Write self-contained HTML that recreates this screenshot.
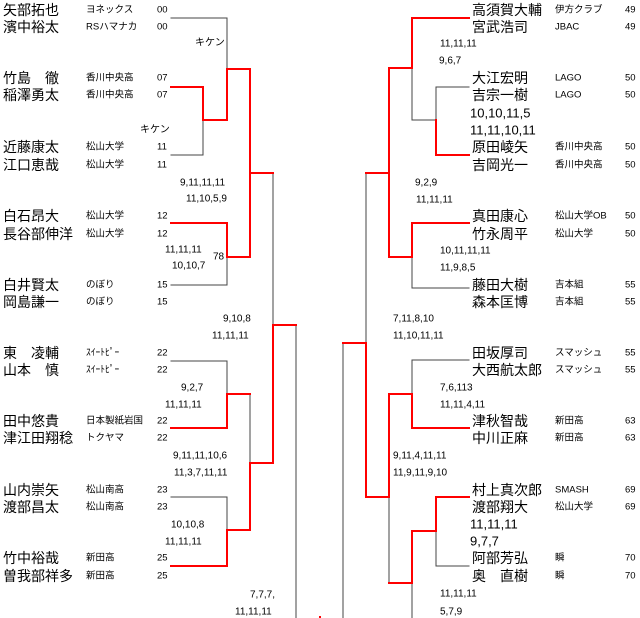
<!DOCTYPE html>
<html><head><meta charset="utf-8"><style>
html,body{margin:0;padding:0;background:#fff;width:640px;height:618px;overflow:hidden}
svg{display:block}
text{font-family:"Liberation Sans","Noto Sans CJK JP",sans-serif;fill:#000;dominant-baseline:central}
.n{font-size:14px}
.t{font-size:9.5px}
.s{font-size:10px}
.b{font-size:13px}
</style></head><body>
<svg width="640" height="618" viewBox="0 0 640 618" xmlns="http://www.w3.org/2000/svg">
<g fill="none" stroke-linecap="square">
<!-- left black/gray -->
<g stroke="#444" stroke-width="1">
<polyline points="171,18 227,18 227,69"/>
<polyline points="171,155 203,155 203,120"/>
<polyline points="227,257 227,285 171,285"/>
<polyline points="273,173 273,325"/>
<polyline points="296,325 296,618"/>
<polyline points="171,361 227,361 227,394"/>
<polyline points="250,394 250,463"/>
<polyline points="171,497 227,497 227,530"/>
<!-- right -->
<polyline points="412,68 412,120 436,120"/>
<polyline points="469,87 436,87 436,120"/>
<polyline points="366,173 366,343"/>
<polyline points="412,257 412,288 469,288"/>
<polyline points="343,343 343,618"/>
<polyline points="469,360 412,360 412,394"/>
<polyline points="389,497 389,583"/>
<polyline points="436,531 436,566 469,566"/>
<polyline points="412,583 412,618"/>
</g>
<g stroke="#f00" stroke-width="2">
<polyline points="171,87 203,87 203,120 227,120 227,69 250,69 250,173 273,173"/>
<polyline points="171,223 227,223 227,257 250,257 250,173"/>
<polyline points="273,325 296,325"/>
<polyline points="273,325 273,463 250,463 250,530 227,530 227,566 171,566"/>
<polyline points="171,428 227,428 227,394 250,394"/>
<!-- right -->
<polyline points="469,18 412,18 412,68 389,68 389,173 366,173"/>
<polyline points="436,120 436,155 469,155"/>
<polyline points="389,173 389,257 412,257 412,223 469,223"/>
<polyline points="366,343 343,343"/>
<polyline points="366,343 366,497 389,497 389,394 412,394 412,428 469,428"/>
<polyline points="389,583 412,583 412,531 436,531 436,497 469,497"/>
</g>
</g>
<!-- left names -->
<g class="n">
<text x="3" y="10">矢部拓也</text><text x="3" y="27">濱中裕太</text>
<text x="3" y="78">竹島　徹</text><text x="3" y="95">稲澤勇太</text>
<text x="3" y="147">近藤康太</text><text x="3" y="165">江口恵哉</text>
<text x="3" y="216">白石昂大</text><text x="3" y="234">長谷部伸洋</text>
<text x="3" y="285">白井賢太</text><text x="3" y="302">岡島謙一</text>
<text x="3" y="353">東　凌輔</text><text x="3" y="370">山本　慎</text>
<text x="3" y="421">田中悠貴</text><text x="3" y="438">津江田翔稔</text>
<text x="3" y="490">山内崇矢</text><text x="3" y="507">渡部昌太</text>
<text x="3" y="558">竹中裕哉</text><text x="3" y="576">曽我部祥多</text>
</g>
<g class="t">
<text x="86" y="10">ヨネックス</text><text x="86" y="27">RSハマナカ</text>
<text x="86" y="78">香川中央高</text><text x="86" y="95">香川中央高</text>
<text x="86" y="147">松山大学</text><text x="86" y="165">松山大学</text>
<text x="86" y="216">松山大学</text><text x="86" y="234">松山大学</text>
<text x="86" y="285">のぼり</text><text x="86" y="302">のぼり</text>
<text x="86" y="353">ｽｲｰﾄﾋﾟｰ</text><text x="86" y="370">ｽｲｰﾄﾋﾟｰ</text>
<text x="86" y="421">日本製紙岩国</text><text x="86" y="438">トクヤマ</text>
<text x="86" y="490">松山南高</text><text x="86" y="507">松山南高</text>
<text x="86" y="558">新田高</text><text x="86" y="576">新田高</text>
</g>
<g class="t">
<text x="157" y="10">00</text><text x="157" y="27">00</text>
<text x="157" y="78">07</text><text x="157" y="95">07</text>
<text x="157" y="147">11</text><text x="157" y="165">11</text>
<text x="157" y="216">12</text><text x="157" y="234">12</text>
<text x="157" y="285">15</text><text x="157" y="302">15</text>
<text x="157" y="353">22</text><text x="157" y="370">22</text>
<text x="157" y="421">22</text><text x="157" y="438">22</text>
<text x="157" y="490">23</text><text x="157" y="507">23</text>
<text x="157" y="558">25</text><text x="157" y="576">25</text>
</g>
<g class="s">
<text x="195" y="43">キケン</text><text x="140" y="130">キケン</text>
<text x="180" y="183">9,11,11,11</text><text x="186" y="199">11,10,5,9</text>
<text x="165" y="250">11,11,11</text><text x="172" y="266">10,10,7</text><text x="213" y="257">78</text>
<text x="223" y="319">9,10,8</text><text x="212" y="336">11,11,11</text>
<text x="181" y="388">9,2,7</text><text x="165" y="405">11,11,11</text>
<text x="173" y="456">9,11,11,10,6</text><text x="174" y="473">11,3,7,11,11</text>
<text x="171" y="525">10,10,8</text><text x="165" y="542">11,11,11</text>
<text x="250" y="595">7,7,7,</text><text x="235" y="612">11,11,11</text>
</g>
<!-- right names -->
<g class="n">
<text x="472" y="10">高須賀大輔</text><text x="472" y="27">宮武浩司</text>
<text x="472" y="78">大江宏明</text><text x="472" y="95">吉宗一樹</text>
<text x="472" y="147">原田崚矢</text><text x="472" y="165">吉岡光一</text>
<text x="472" y="216">真田康心</text><text x="472" y="234">竹永周平</text>
<text x="472" y="285">藤田大樹</text><text x="472" y="302">森本匡博</text>
<text x="472" y="353">田坂厚司</text><text x="472" y="370">大西航太郎</text>
<text x="472" y="421">津秋智哉</text><text x="472" y="438">中川正麻</text>
<text x="472" y="490">村上真次郎</text><text x="472" y="507">渡部翔大</text>
<text x="472" y="558">阿部芳弘</text><text x="472" y="576">奥　直樹</text>
</g>
<g class="t">
<text x="555" y="10">伊方クラブ</text><text x="555" y="27">JBAC</text>
<text x="555" y="78">LAGO</text><text x="555" y="95">LAGO</text>
<text x="555" y="147">香川中央高</text><text x="555" y="165">香川中央高</text>
<text x="555" y="216">松山大学OB</text><text x="555" y="234">松山大学</text>
<text x="555" y="285">吉本組</text><text x="555" y="302">吉本組</text>
<text x="555" y="353">スマッシュ</text><text x="555" y="370">スマッシュ</text>
<text x="555" y="421">新田高</text><text x="555" y="438">新田高</text>
<text x="555" y="490">SMASH</text><text x="555" y="507">松山大学</text>
<text x="555" y="558">瞬</text><text x="555" y="576">瞬</text>
</g>
<g class="t">
<text x="625" y="10">49</text><text x="625" y="27">49</text>
<text x="625" y="78">50</text><text x="625" y="95">50</text>
<text x="625" y="147">50</text><text x="625" y="165">50</text>
<text x="625" y="216">50</text><text x="625" y="234">50</text>
<text x="625" y="285">55</text><text x="625" y="302">55</text>
<text x="625" y="353">55</text><text x="625" y="370">55</text>
<text x="625" y="421">63</text><text x="625" y="438">63</text>
<text x="625" y="490">69</text><text x="625" y="507">69</text>
<text x="625" y="558">70</text><text x="625" y="576">70</text>
</g>
<g class="s">
<text x="440" y="44">11,11,11</text><text x="439" y="61">9,6,7</text>
<text x="415" y="183">9,2,9</text><text x="416" y="200">11,11,11</text>
<text x="440" y="251">10,11,11,11</text><text x="440" y="268">11,9,8,5</text>
<text x="393" y="319">7,11,8,10</text><text x="393" y="336">11,10,11,11</text>
<text x="440" y="388">7,6,113</text><text x="440" y="405">11,11,4,11</text>
<text x="393" y="456">9,11,4,11,11</text><text x="393" y="473">11,9,11,9,10</text>
<text x="440" y="594">11,11,11</text><text x="440" y="612">5,7,9</text>
</g>
<g class="b">
<text x="470" y="113">10,10,11,5</text><text x="470" y="130">11,11,10,11</text>
<text x="470" y="524">11,11,11</text><text x="470" y="541">9,7,7</text>
</g>
<rect x="319" y="616" width="2" height="2" fill="#f00"/>
</svg>
</body></html>
